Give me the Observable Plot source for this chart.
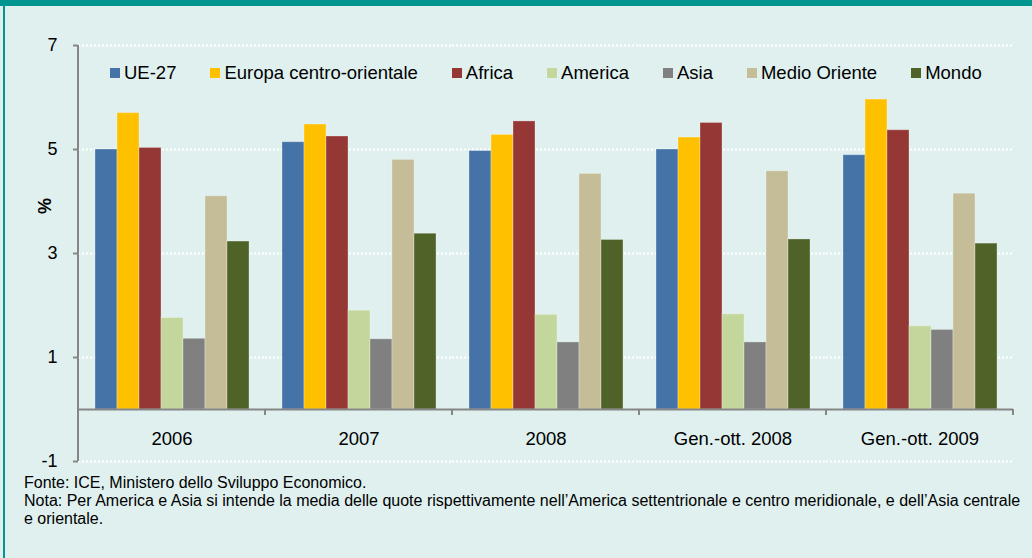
<!DOCTYPE html>
<html>
<head>
<meta charset="utf-8">
<script src="https://cdn.jsdelivr.net/npm/d3@7"></script>
<script src="https://cdn.jsdelivr.net/npm/@observablehq/plot@0.6"></script>
<style>
  html, body { margin: 0; padding: 0; background: #dff0ef; }
  #wrap { position: relative; width: 1032px; height: 558px; background: #dff0ef; overflow: hidden;
          font-family: "Liberation Sans", Arial, sans-serif; color: #000; }
  #topbar { position: absolute; left: 0; top: 0; width: 1032px; height: 6px; background: #00968f; }
  #leftbar { position: absolute; left: 3px; top: 0; width: 2px; height: 558px; background: #00968f; }
  #chart { position: absolute; left: 0; top: 0; }
  #legend { position: absolute; left: 110px; top: 62px; display: flex; gap: 34px; font-size: 18.5px; line-height: 22px; white-space: nowrap; }
  #legend .item { display: flex; align-items: center; }
  #legend .sw { width: 10px; height: 10px; margin-right: 4px; }
  #ylabel { position: absolute; left: 45px; top: 206px; transform: translate(-50%, -50%) rotate(-90deg); font-size: 18px; font-weight: bold; }
  #notes { position: absolute; left: 24px; top: 474px; font-size: 16px; line-height: 18px; white-space: nowrap; }
</style>
</head>
<body>
<div id="wrap">
  <div id="topbar"></div>
  <div id="leftbar"></div>
  <div id="chart"></div>
  <div id="legend"></div>
  <div id="ylabel">%</div>
  <div id="notes">Fonte: ICE, Ministero dello Sviluppo Economico.<br>Nota: Per America e Asia si intende la media delle quote rispettivamente nell’America settentrionale e centro meridionale, e dell’Asia centrale<br>e orientale.</div>
</div>
<script>
const categories = ["2006", "2007", "2008", "Gen.-ott. 2008", "Gen.-ott. 2009"];
const seriesNames = ["UE-27", "Europa centro-orientale", "Africa", "America", "Asia", "Medio Oriente", "Mondo"];
const seriesColors = ["#4572a7", "#ffc000", "#953735", "#c3d69b", "#808080", "#c4bd97", "#4f6228"];
const ue27 = [5.00, 5.14, 4.97, 5.00, 4.89];
const europaCentroOrientale = [5.70, 5.48, 5.28, 5.23, 5.96];
const africa = [5.03, 5.25, 5.54, 5.51, 5.37];
const america = [1.76, 1.90, 1.82, 1.83, 1.60];
const asia = [1.36, 1.35, 1.29, 1.29, 1.53];
const medioOriente = [4.10, 4.80, 4.53, 4.58, 4.15];
const mondo = [3.23, 3.38, 3.26, 3.27, 3.19];
const yTicks = [-1, 1, 3, 5, 7];

const seriesValues = [ue27, europaCentroOrientale, africa, america, asia, medioOriente, mondo];
const rows = categories.flatMap((c, i) => seriesNames.map((s, j) => ({category: c, series: s, value: seriesValues[j][i]})));

const axisGray = "#868686";

const plot = Plot.plot({
  width: 1032,
  height: 470,
  marginTop: 45,
  marginBottom: 9,
  marginLeft: 78,
  marginRight: 19,
  style: {background: "transparent", fontFamily: "'Liberation Sans', Arial, sans-serif", fontSize: "18px", color: "#000", overflow: "visible"},
  fx: {domain: categories, padding: 0, axis: null},
  x: {domain: seriesNames, paddingInner: 0, paddingOuter: 0.75, axis: null},
  y: {domain: [-1, 7], axis: null},
  color: {domain: seriesNames, range: seriesColors},
  marks: [
    Plot.ruleY(yTicks, {stroke: "white", strokeWidth: 2, strokeDasharray: "2,2"}),
    Plot.barY(rows, {fx: "category", x: "series", y: "value", fill: "series", stroke: "white", strokeOpacity: 0.3, strokeWidth: 1}),
    Plot.ruleY([0], {stroke: axisGray, strokeWidth: 2}),
    Plot.axisY({ticks: yTicks, tickSize: 5, tickPadding: 16, stroke: axisGray, strokeWidth: 2, fontSize: 18, fill: "#000", label: null, tickFormat: d => String(d)}),
    Plot.text(categories, {fx: d => d, text: d => d, frameAnchor: "bottom", dy: -17, fontSize: 18.5, fill: "#000"})
  ]
});
document.getElementById("chart").appendChild(plot);

// Axis line and group boundary ticks from the plot's own scales
const fx = plot.scale("fx");
const y = plot.scale("y");
const svg = d3.select(plot);
const g = svg.append("g").attr("stroke", axisGray).attr("stroke-width", 2).attr("fill", "none");
const left = fx.apply(categories[0]);
g.append("line").attr("x1", left).attr("x2", left).attr("y1", y.apply(7)).attr("y2", y.apply(-1));
const edges = categories.map(c => fx.apply(c)).concat([fx.apply(categories[categories.length - 1]) + fx.bandwidth]);
edges.forEach(xp => {
  g.append("line").attr("x1", xp).attr("x2", xp).attr("y1", y.apply(0)).attr("y2", y.apply(0) + 6);
});

// Legend
const legend = d3.select("#legend");
seriesNames.forEach((s, i) => {
  const it = legend.append("div").attr("class", "item");
  it.append("div").attr("class", "sw").style("background", seriesColors[i]);
  it.append("span").text(s);
});
</script>
</body>
</html>
